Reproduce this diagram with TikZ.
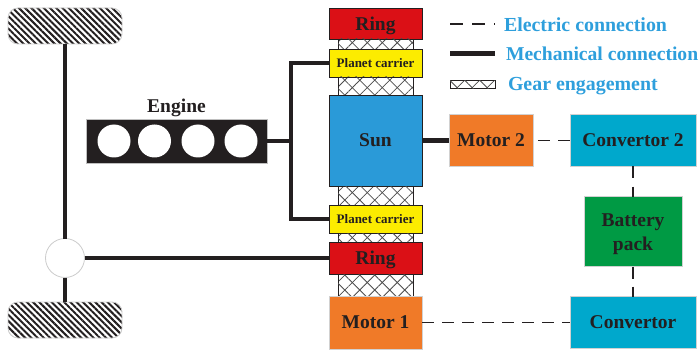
\documentclass[tikz,border=0pt]{standalone}
\usepackage{fontspec}
\setmainfont{Liberation Serif}
\usetikzlibrary{positioning, patterns.meta}
\definecolor{inkblack}{HTML}{231F20}
\definecolor{ringred}{HTML}{DB1016}
\definecolor{carrieryellow}{HTML}{FCEC00}
\definecolor{sunblue}{HTML}{2A9AD8}
\definecolor{motororange}{HTML}{F07A28}
\definecolor{convteal}{HTML}{00A8CC}
\definecolor{packgreen}{HTML}{009A44}
\definecolor{legendblue}{HTML}{2E9FDC}
\tikzset{
	x=1pt, y=-1pt, % one unit is one pixel of the layout
	every node/.style={inner sep=0pt, outer sep=0pt, text=inkblack, font=\fontsize{19.5}{24}\selectfont\bfseries},
	darkbox/.style={draw=inkblack, line width=0.8pt, minimum width=93pt}, % boxes of the gear stack
	lightbox/.style={draw=black!18, line width=0.8pt}, % motors, convertors, battery
	smalltext/.style={font=\fontsize{13}{15}\selectfont\bfseries},
	gear/.style={draw=inkblack, line width=0.5pt, minimum width=75pt,
		pattern={Lines[angle=45, distance=10.6pt, line width=0.8pt]}, pattern color=black!70,
		postaction={pattern={Lines[angle=-45, distance=10.6pt, line width=0.8pt]}, pattern color=black!70}},
	wheel/.style={draw=black!20, line width=0.8pt, rounded corners=10pt, minimum width=114pt, minimum height=36pt,
		pattern={Lines[angle=-45, distance=4.4pt, line width=2pt]}, pattern color=inkblack},
	mech/.style={draw=inkblack, line width=4.5pt},
	elec/.style={draw=inkblack, line width=1.2pt, dash pattern=on 12pt off 8pt},
	legend/.style={anchor=west, text=legendblue},
}
\begin{document}
\begin{tikzpicture}
	\useasboundingbox (0,0) rectangle (699,350);
	% gear stack
	\node[darkbox, fill=ringred, minimum height=31pt, text depth=0pt] (ring1) at (375.5,23.5) {Ring};
	\node[gear, minimum height=10pt, below=0pt of ring1] (gear1) {};
	\node[darkbox, fill=carrieryellow, minimum height=28pt, smalltext, below=0pt of gear1] (carrier1) {Planet carrier};
	\node[gear, minimum height=18pt, below=0pt of carrier1] (gear2) {};
	\node[darkbox, fill=sunblue, minimum height=91pt, below=0pt of gear2] (sun) {Sun};
	\node[gear, minimum height=19pt, below=0pt of sun] (gear3) {};
	\node[darkbox, fill=carrieryellow, minimum height=28pt, smalltext, below=0pt of gear3] (carrier2) {Planet carrier};
	\node[gear, minimum height=9pt, below=0pt of carrier2] (gear4) {};
	\node[darkbox, fill=ringred, minimum height=32pt, text depth=0pt, below=0pt of gear4] (ring2) {Ring};
	\node[gear, minimum height=22pt, below=0pt of ring2] (gear5) {};
	\node[lightbox, fill=motororange, minimum width=93pt, minimum height=53pt, below=0pt of gear5] (motor1) {Motor 1};

	% electric side
	\node[lightbox, fill=motororange, minimum width=84pt, minimum height=52pt, right=27pt of sun] (motor2) {Motor 2};
	\node[lightbox, fill=convteal, minimum width=126pt, minimum height=52pt, right=37pt of motor2] (conv2) {Convertor 2};
	\node[lightbox, fill=packgreen, minimum width=98pt, minimum height=70pt, align=center, below=30pt of conv2] (battery) {\rule{0pt}{18pt}Battery\\pack};
	\node[lightbox, fill=convteal, minimum width=126pt, minimum height=52pt, below=30pt of battery] (conv1) {Convertor};

	% engine and wheels
	\node[draw=black!25, line width=0.8pt, fill=inkblack, minimum width=181pt, minimum height=44pt] (engine) at (176.5,141) {};
	\node[text depth=0pt, above=6.5pt of engine] (enginelabel) {Engine};
	\foreach \i/\x in {1/114,2/154.5,3/198,4/241}
		\node[circle, fill=white, minimum size=33pt] (cyl\i) at (\x,141) {};
	\node[wheel] (wheeltop) at (65,26) {};
	\node[wheel] (wheelbot) at (65,320) {};
	\node[circle, draw=black!20, line width=0.8pt, fill=white, minimum size=39pt] (diff) at (65,258) {};
	\coordinate (bus) at (291,141);

	% legend
	\coordinate (elecA) at (450,24);
	\coordinate (elecB) at (495,24);
	\coordinate (mechA) at (450,54);
	\coordinate (mechB) at (495,54);
	\node[gear, line width=1pt, minimum width=45pt, minimum height=8pt] (gearkey) at (472.5,85) {};
	\node[legend] (elecText) at (504,25) {\fontsize{19.9}{24}\selectfont Electric connection};
	\node[legend] (mechText) at (506,54) {\fontsize{19.6}{24}\selectfont Mechanical connection};
	\node[legend, text depth=0pt] (gearText) at (508,84) {\fontsize{19.9}{24}\selectfont Gear engagement};

	% connections
	\draw[mech] (wheeltop) -- (diff);
	\draw[mech] (diff) -- (wheelbot);
	\draw[mech] (diff) -- (diff -| ring2.west);
	\draw[mech] (engine) -- (bus);
	\draw[mech] (carrier1.west) -| (bus) |- (carrier2.west);
	\draw[mech] (sun) -- (motor2);
	\draw[mech, line width=5pt] (mechA) -- (mechB);
	\draw[elec, dash pattern=on 13pt off 9pt] (elecA) -- (elecB);
	\draw[elec, dash phase=15pt] (motor2) -- (conv2);
	\draw[elec] (conv2) -- (battery);
	\draw[elec] (battery) -- (conv1);
	\draw[elec] (motor1) -- (motor1 -| conv1.west);
\end{tikzpicture}
\end{document}
